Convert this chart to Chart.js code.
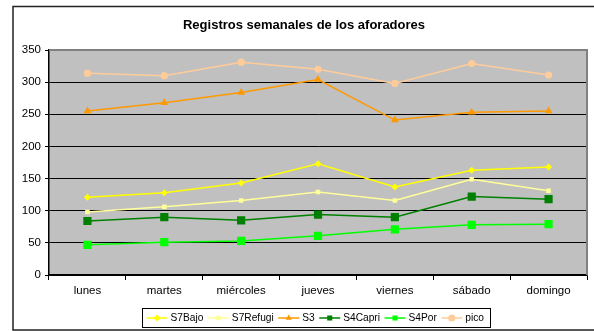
<!DOCTYPE html>
<html>
<head>
<meta charset="utf-8">
<script src="https://cdn.jsdelivr.net/npm/chart.js@4/dist/chart.umd.min.js"></script>
<style>
  html, body { margin: 0; padding: 0; background: #fff; }
  #wrap { width: 594px; height: 331px; position: relative; }
</style>
</head>
<body>
<div id="wrap"><canvas id="grafico" width="594" height="331"></canvas></div>
<script>
const dias = ["lunes", "martes", "miércoles", "jueves", "viernes", "sábado", "domingo"];
const s7Bajo = [121, 128, 143, 173, 137, 163, 168];
const s7Refugi = [98, 106, 116, 129, 116, 149, 131];
const s3 = [255, 268, 284, 304, 241, 253, 255];
const s4Capri = [84, 90, 85, 94, 90, 122, 118];
const s4Por = [47, 51, 53, 61, 71, 78, 79];
const pico = [314, 310, 331, 320, 298, 329, 311];
const titulo = "Registros semanales de los aforadores";

const fuente = "Arial, 'Liberation Sans', sans-serif";

function serie(nombre, datos, color, estilo, radio) {
  return {
    label: nombre,
    data: datos,
    borderColor: color,
    backgroundColor: color,
    borderWidth: 1.5,
    pointStyle: estilo,
    pointRadius: radio,
    pointHoverRadius: radio,
    pointBorderWidth: 0,
    tension: 0
  };
}

// fondo gris, marco exterior, título y leyenda propia
const marco = {
  id: "marco",
  beforeDraw(chart) {
    const ctx = chart.ctx;
    const a = chart.chartArea;
    ctx.save();
    ctx.fillStyle = "#fff";
    ctx.fillRect(0, 0, chart.width, chart.height);
    ctx.fillStyle = "#c0c0c0";
    ctx.fillRect(a.left, a.top, a.right - a.left, a.bottom - a.top);
    ctx.restore();
  },
  afterDraw(chart) {
    const ctx = chart.ctx;
    const a = chart.chartArea;
    ctx.save();
    // borde gris arriba y a la derecha del área de trazado
    ctx.strokeStyle = "#808080";
    ctx.lineWidth = 2;
    ctx.beginPath();
    ctx.moveTo(a.left, a.top);
    ctx.lineTo(a.right, a.top);
    ctx.lineTo(a.right, a.bottom);
    ctx.stroke();

    // marco del gráfico
    ctx.strokeStyle = "#222";
    ctx.lineWidth = 1.5;
    ctx.strokeRect(13, 6.5, 600, 323.5);

    // título
    ctx.fillStyle = "#000";
    ctx.font = "bold 13px " + fuente;
    ctx.textAlign = "center";
    ctx.textBaseline = "middle";
    ctx.fillText(titulo, 304, 25);

    // leyenda
    const lx = 142, ly = 308, lw = 348, lh = 19;
    ctx.fillStyle = "#fff";
    ctx.fillRect(lx, ly, lw, lh);
    ctx.strokeStyle = "#000";
    ctx.lineWidth = 1;
    ctx.strokeRect(lx + 0.5, ly + 0.5, lw, lh);
    ctx.font = "10.2px " + fuente;
    ctx.textAlign = "left";
    const cy = ly + lh / 2 + 0.5;
    let x = lx + 4.5;
    chart.data.datasets.forEach(ds => {
      const largo = 21;
      ctx.strokeStyle = ds.borderColor;
      ctx.lineWidth = 1.5;
      ctx.beginPath();
      ctx.moveTo(x, cy);
      ctx.lineTo(x + largo, cy);
      ctx.stroke();
      ctx.fillStyle = ds.backgroundColor;
      Chart.helpers.drawPoint(ctx, {
        pointStyle: ds.pointStyle,
        rotation: 0,
        borderWidth: 0,
        radius: Math.min(ds.pointRadius, 3.6)
      }, x + largo / 2, cy);
      ctx.fillStyle = "#000";
      ctx.fillText(ds.label, x + largo + 3, cy);
      x += largo + 3 + ctx.measureText(ds.label).width + 4.5;
    });
    ctx.restore();
  }
};

new Chart(document.getElementById("grafico"), {
  type: "line",
  data: {
    labels: dias,
    datasets: [
      serie("S7Bajo", s7Bajo, "#ffff00", "rectRot", 3.5),
      serie("S7Refugi", s7Refugi, "#ffff99", "rect", 3.2),
      serie("S3", s3, "#ff9900", "triangle", 4.5),
      serie("S4Capri", s4Capri, "#008000", "rect", 5.8),
      serie("S4Por", s4Por, "#00ff00", "rect", 5.8),
      serie("pico", pico, "#ffcc99", "circle", 3.6)
    ]
  },
  options: {
    responsive: false,
    animation: false,
    events: [],
    layout: { padding: { left: 0, right: 7, top: 50, bottom: 33 } },
    plugins: {
      legend: { display: false },
      title: { display: false },
      tooltip: { enabled: false }
    },
    scales: {
      x: {
        offset: true,
        grid: {
          offset: true,
          drawOnChartArea: false,
          drawTicks: true,
          tickLength: 5,
          color: "#000"
        },
        border: { display: true, color: "#000", width: 1.5 },
        ticks: {
          color: "#000",
          font: { family: fuente, size: 11.5 },
          padding: 4,
          maxRotation: 0
        },
        afterFit(s) { s.height = 23; }
      },
      y: {
        min: 0,
        max: 350,
        ticks: {
          stepSize: 50,
          color: "#000",
          font: { family: fuente, size: 11.5 },
          padding: 4
        },
        grid: {
          color: "#000",
          lineWidth: 1,
          tickLength: 4
        },
        border: { display: true, color: "#000", width: 1.5 },
        afterFit(s) { s.width = 49; }
      }
    }
  },
  plugins: [marco]
});
</script>
</body>
</html>
